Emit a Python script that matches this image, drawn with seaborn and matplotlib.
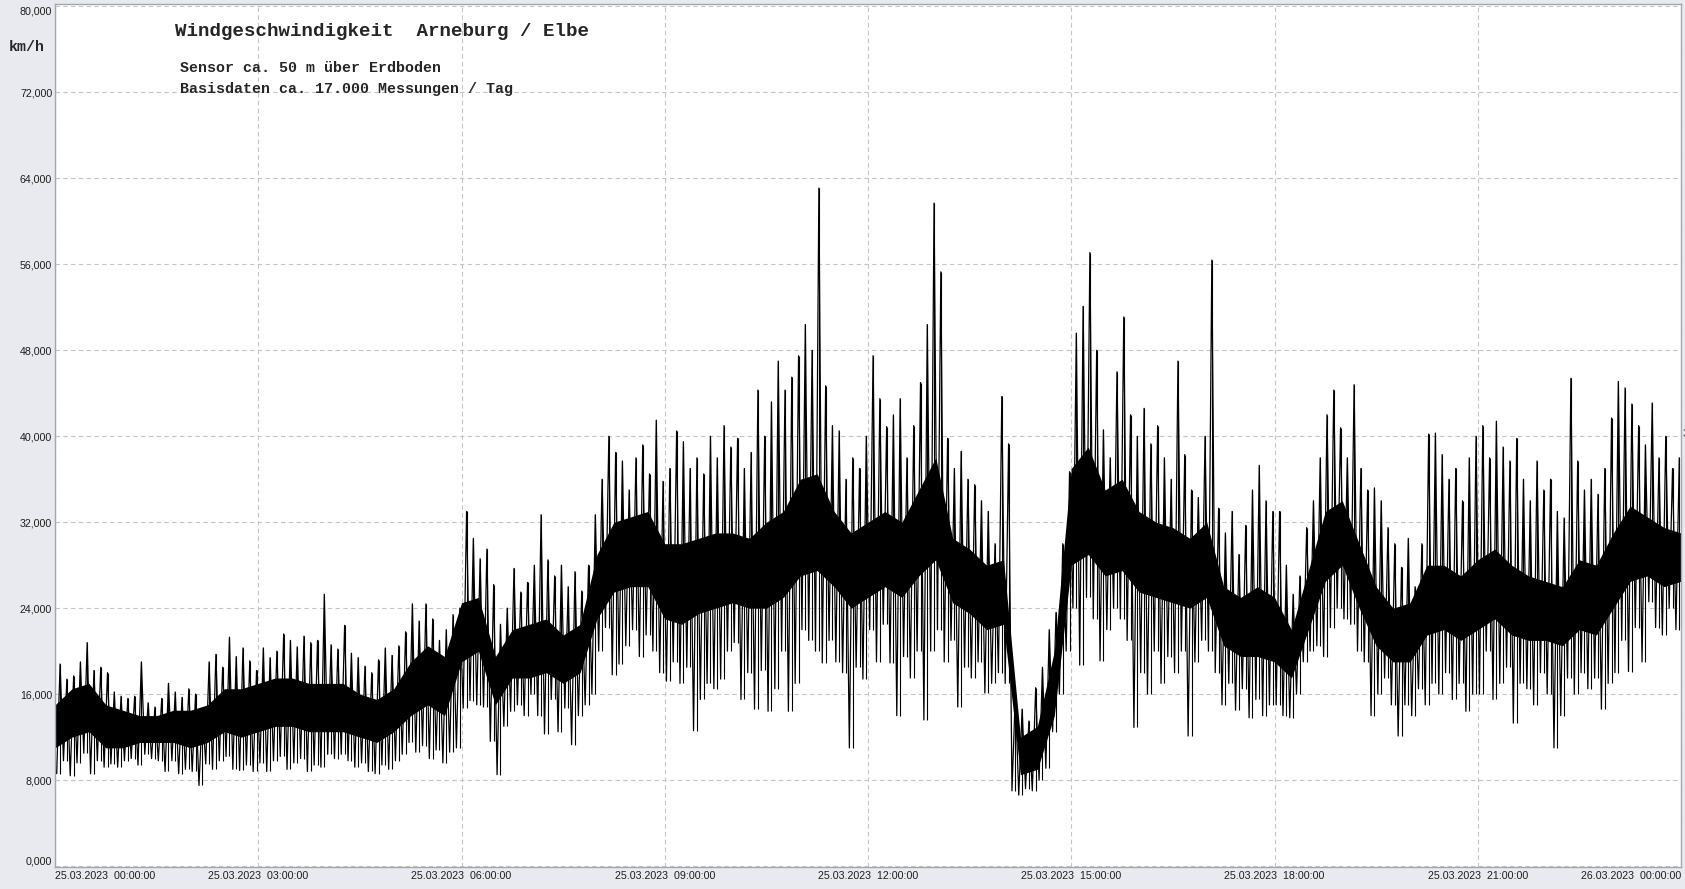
# %%
# Windgeschwindigkeit Arneburg / Elbe, 25.03.2023
import numpy as np
import pandas as pd
import matplotlib
matplotlib.use('Agg')
import matplotlib.pyplot as plt
import matplotlib.dates as mdates
import seaborn as sns

# lowest value per 6-minute bin (km/h), one row per hour
taeler = [
    8.6, 9.8, 8.4, 9.6, 10.5, 8.6, 9.8, 9.2, 9.5, 9.2,
    9.8, 10.0, 9.4, 10.4, 10.0, 9.8, 8.8, 9.8, 8.6, 9.0,
    8.8, 7.5, 9.5, 9.0, 9.8, 10.2, 9.0, 8.9, 9.4, 8.8,
    9.6, 8.8, 9.8, 10.2, 9.0, 9.6, 10.0, 8.8, 9.4, 9.2,
    10.4, 10.0, 10.4, 9.8, 9.2, 9.6, 8.8, 8.6, 9.4, 9.0,
    9.8, 10.4, 11.5, 10.6, 11.2, 10.0, 10.8, 9.6, 10.6, 11.0,
    14.7, 15.4, 15.0, 14.8, 11.6, 8.5, 13.0, 14.4, 15.0, 14.0,
    16.0, 14.0, 12.3, 15.5, 12.5, 14.7, 11.3, 14.0, 15.0, 16.0,
    20.0, 22.2, 17.8, 18.8, 20.5, 22.0, 19.5, 21.5, 20.0, 18.0,
    17.2, 19.0, 17.0, 18.5, 12.6, 15.5, 17.0, 16.5, 17.4, 20.0,
    20.8, 15.5, 18.0, 14.6, 18.2, 14.4, 16.5, 20.0, 14.4, 17.0,
    22.0, 21.0, 20.0, 18.9, 21.0, 19.0, 18.0, 11.0, 18.5, 17.4,
    22.0, 19.0, 22.5, 18.9, 14.0, 19.5, 17.5, 20.0, 13.6, 20.0,
    22.0, 19.0, 21.0, 14.8, 18.5, 17.5, 19.0, 16.1, 17.0, 18.0,
    17.0, 7.0, 6.6, 7.2, 7.0, 8.0, 9.1, 12.5, 16.0, 20.0,
    24.0, 18.7, 25.0, 23.0, 19.1, 22.0, 24.0, 23.0, 21.0, 12.9,
    18.0, 16.0, 20.0, 17.0, 19.5, 18.0, 20.0, 12.1, 19.0, 21.0,
    20.0, 18.0, 15.0, 17.0, 14.5, 16.5, 13.8, 15.5, 14.0, 15.0,
    15.0, 14.0, 13.8, 16.0, 19.0, 20.0, 20.5, 19.5, 22.2, 24.0,
    23.0, 22.5, 20.0, 19.0, 14.0, 16.0, 17.5, 15.0, 12.1, 15.0,
    14.0, 16.5, 15.0, 17.0, 16.0, 18.0, 15.5, 17.0, 14.4, 16.0,
    16.0, 20.0, 15.5, 17.0, 18.5, 13.3, 17.0, 16.5, 15.0, 18.0,
    16.0, 11.0, 14.0, 17.5, 16.0, 18.0, 16.5, 17.5, 14.6, 17.0,
    18.0, 21.0, 18.1, 22.2, 19.0, 24.6, 22.2, 21.5, 24.0, 22.0,
]

# highest value per 6-minute bin (km/h)
spitzen = [
    18.8, 17.4, 17.7, 19.0, 20.8, 18.2, 18.5, 18.0, 16.2, 15.8,
    15.6, 15.8, 19.0, 15.2, 14.8, 15.6, 17.0, 16.2, 15.7, 16.5,
    16.0, 14.5, 19.0, 19.7, 18.5, 21.3, 19.5, 20.3, 19.1, 18.2,
    20.3, 19.4, 20.0, 21.6, 21.0, 20.4, 21.4, 20.8, 21.0, 25.3,
    20.6, 20.2, 22.4, 19.8, 19.4, 18.6, 18.0, 19.2, 20.3, 19.6,
    20.5, 21.8, 24.4, 22.8, 24.4, 23.0, 21.0, 22.0, 23.4, 24.0,
    33.0, 30.5, 28.6, 29.5, 26.2, 22.5, 24.0, 27.7, 25.5, 26.4,
    28.0, 32.7, 28.5, 27.0, 28.0, 26.0, 27.4, 25.6, 28.0, 32.7,
    36.0, 40.0, 38.5, 37.7, 35.0, 38.0, 39.2, 36.5, 41.5, 35.8,
    37.0, 40.5, 39.5, 37.0, 38.0, 36.5, 40.0, 38.0, 41.0, 39.0,
    39.8, 37.0, 38.5, 44.3, 40.0, 43.2, 47.0, 44.3, 45.5, 47.5,
    50.4, 48.0, 63.1, 44.7, 41.0, 40.5, 36.0, 38.0, 37.0, 40.0,
    47.5, 43.5, 40.9, 42.0, 43.5, 38.0, 41.0, 45.0, 50.4, 61.7,
    55.3, 39.8, 37.0, 38.6, 36.0, 35.5, 34.0, 33.0, 30.0, 43.7,
    39.3, 16.0, 14.6, 13.5, 16.6, 18.5, 22.0, 23.6, 30.0, 36.7,
    49.6, 52.1, 57.1, 48.0, 40.6, 38.0, 46.0, 51.1, 42.0, 40.0,
    42.6, 39.3, 41.0, 38.0, 36.0, 47.0, 38.3, 35.0, 34.3, 40.0,
    56.4, 33.3, 31.0, 33.0, 29.0, 31.7, 35.0, 37.3, 34.0, 33.0,
    33.0, 28.0, 25.3, 27.0, 31.5, 34.0, 38.0, 42.0, 44.3, 40.8,
    38.0, 44.8, 37.0, 35.0, 35.2, 34.0, 31.5, 30.0, 27.8, 30.5,
    26.0, 30.0, 40.2, 40.3, 38.3, 36.0, 37.0, 34.0, 38.0, 40.0,
    41.0, 38.0, 41.4, 39.0, 37.7, 39.8, 36.0, 34.0, 37.7, 35.0,
    36.0, 33.0, 32.4, 45.4, 37.7, 35.0, 36.0, 34.6, 37.0, 41.7,
    45.1, 44.5, 43.0, 41.0, 39.2, 43.1, 38.0, 40.0, 37.0, 38.0,
]

# dense core of the trace, every 15 minutes (00:00 ... 24:00)
kern_unten = [
    11.0, 12.0, 12.5, 11.0, 11.0, 11.5, 11.5, 11.5, 11.0, 11.5, 12.5, 12.0,
    12.5, 13.0, 13.0, 12.5, 12.5, 12.5, 12.0, 11.5, 12.5, 14.0, 15.0, 14.0,
    19.0, 20.0, 15.0, 17.5, 17.5, 18.0, 17.0, 18.0, 23.0, 25.5, 26.0, 26.0,
    23.0, 22.5, 23.5, 24.0, 24.5, 24.0, 24.0, 25.0, 27.0, 27.5, 26.0, 24.0,
    25.0, 26.0, 25.0, 27.0, 28.5, 24.5, 23.5, 22.0, 22.5, 8.5, 9.0, 14.0,
    28.0, 29.0, 27.0, 27.5, 25.5, 25.0, 24.5, 24.0, 25.0, 20.5, 19.5, 19.5,
    19.0, 17.5, 22.0, 26.5, 28.0, 24.0, 20.5, 19.0, 19.0, 21.5, 22.0, 21.0,
    22.0, 23.0, 21.5, 21.0, 21.0, 20.5, 22.0, 21.5, 24.0, 26.5, 27.0, 26.0,
    26.5,
]
kern_oben = [
    15.0, 16.5, 17.0, 15.0, 14.5, 14.0, 14.0, 14.5, 14.5, 15.0, 16.5, 16.5,
    17.0, 17.5, 17.5, 17.0, 17.0, 17.0, 16.0, 15.5, 16.5, 19.0, 20.5, 19.5,
    24.5, 25.0, 19.5, 22.0, 22.5, 23.0, 21.5, 22.5, 29.0, 32.0, 32.5, 33.0,
    30.0, 30.0, 30.5, 31.0, 31.0, 30.5, 32.0, 33.0, 36.0, 36.5, 33.0, 31.0,
    32.0, 33.0, 32.0, 35.0, 38.0, 30.5, 29.5, 28.0, 28.5, 12.0, 13.0, 20.0,
    37.0, 39.0, 35.0, 36.0, 33.0, 32.0, 31.5, 30.5, 32.0, 26.0, 25.0, 26.0,
    25.0, 22.0, 27.5, 33.0, 34.0, 30.0, 26.0, 24.0, 24.5, 28.0, 28.0, 27.0,
    28.5, 29.5, 28.0, 27.0, 26.5, 26.0, 28.5, 28.0, 31.0, 33.5, 32.5, 31.5,
    31.0,
]

start = pd.Timestamp('2023-03-25 00:00:00')
ende = pd.Timestamp('2023-03-26 00:00:00')

# %%
# build the trace: low and high of every bin one after the other
bins = pd.date_range(start, periods=len(spitzen), freq='6min')
zeit = np.empty(2 * len(bins), dtype='datetime64[ns]')
zeit[0::2] = (bins + pd.Timedelta('90s')).values
zeit[1::2] = (bins + pd.Timedelta('270s')).values
werte = np.empty(2 * len(bins))
werte[0::2] = taeler
werte[1::2] = spitzen
df = pd.DataFrame({'zeit': zeit, 'kmh': werte})

spitze_zeit = mdates.date2num((bins + pd.Timedelta('270s')).to_pydatetime())
kern_zeit = mdates.date2num(pd.date_range(start, periods=len(kern_unten), freq='15min').to_pydatetime())

# %%
sns.set_theme(style='white')
plt.rcParams['font.family'] = ['Liberation Sans', 'DejaVu Sans']

fig = plt.figure(figsize=(16.85, 8.89), dpi=100, facecolor='#e8eaf0')
ax = fig.add_axes([55 / 1685, 22 / 889, 1626 / 1685, 863 / 889])
ax.set_facecolor('white')

ax.fill_between(kern_zeit, kern_unten, kern_oben, color='black', lw=0, zorder=2)
ax.vlines(spitze_zeit, taeler, spitzen, color='black', lw=0.8, zorder=3)
sns.lineplot(data=df, x='zeit', y='kmh', color='black', lw=0.9,
             estimator=None, sort=False, ax=ax, zorder=3)

ax.set_xlim(mdates.date2num(start.to_pydatetime()), mdates.date2num(ende.to_pydatetime()))
ax.set_ylim(-0.09, 80.23)
ax.set_xlabel('')
ax.set_ylabel('')

# ticks
major_x = pd.date_range(start, ende, freq='3h')
minor_x = pd.date_range(start, ende, freq='45min')
ax.set_xticks(mdates.date2num(major_x.to_pydatetime()))
ax.set_xticks(mdates.date2num(minor_x.to_pydatetime()), minor=True)
ax.set_xticklabels([t.strftime('%d.%m.%Y  %H:%M:%S') for t in major_x])

major_y = np.arange(0, 81, 8)
ax.set_yticks(major_y)
ax.set_yticks(np.arange(0, 81, 2), minor=True)
ax.set_yticklabels([f'{v:.3f}'.replace('.', ',') for v in major_y])

ax.tick_params(axis='both', which='major', length=0, labelsize=7.7, labelcolor='#1e1e1e')
ax.tick_params(axis='x', which='major', pad=3)
ax.tick_params(axis='y', which='major', pad=2)
ax.tick_params(axis='both', which='minor', direction='in', length=4, width=0.8, color='#c4c4c4')

xl = ax.get_xticklabels()
xl[0].set_ha('left')
xl[-1].set_ha('right')
yl = ax.get_yticklabels()
yl[0].set_va('bottom')
yl[-1].set_va('top')

ax.grid(True, which='major', color='#c6c6c6', ls=(0, (4, 3)), lw=0.8)
ax.set_axisbelow(True)
for sp in ax.spines.values():
    sp.set_color('#a2a6ae')
    sp.set_linewidth(1)

# texts
mono = ['Liberation Mono', 'DejaVu Sans Mono']
fig.text(175 / 1685, 1 - 31 / 889, 'Windgeschwindigkeit  Arneburg / Elbe',
         family=mono, weight='bold', size=13.8, va='center', ha='left')
fig.text(179.5 / 1685, 1 - 68 / 889, 'Sensor ca. 50 m über Erdboden',
         family=mono, weight='bold', size=10.8, va='center', ha='left')
fig.text(179.5 / 1685, 1 - 89 / 889, 'Basisdaten ca. 17.000 Messungen / Tag',
         family=mono, weight='bold', size=10.8, va='center', ha='left')
fig.text(27 / 1685, 1 - 47 / 889, 'km/h', family=mono, weight='bold', size=10.8,
         va='center', ha='center')
# partly hidden label at the right edge, as in the original screenshot
fig.text(1683 / 1685, 1 - 434 / 889, '3', size=7.7, va='center', ha='left', color='#333333')

fig.savefig('out.png', dpi=100, facecolor=fig.get_facecolor())
